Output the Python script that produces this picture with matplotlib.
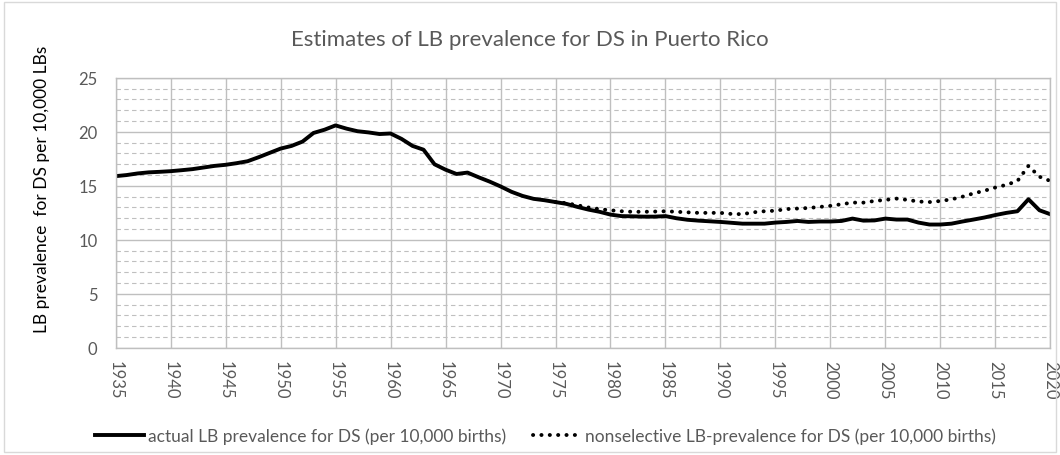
import numpy as np
import matplotlib.pyplot as plt
from matplotlib.patches import Rectangle

plt.rcParams['font.family'] = ['Lato', 'DejaVu Sans']

# Data
years = list(range(1935, 2021))
actual = [15.9, 16.0, 16.15, 16.25, 16.3, 16.36, 16.45, 16.55, 16.7, 16.85,
          16.95, 17.1, 17.28, 17.65, 18.05, 18.45, 18.7, 19.1, 19.9, 20.2,
          20.6, 20.3, 20.06, 19.95, 19.8, 19.85, 19.35, 18.7, 18.35, 17.0,
          16.5, 16.1, 16.23, 15.8, 15.4, 14.95, 14.45, 14.07, 13.8, 13.67,
          13.5, 13.33, 13.05, 12.8, 12.6, 12.34, 12.2, 12.18, 12.15, 12.15,
          12.2, 12.0, 11.86, 11.78, 11.72, 11.66, 11.58, 11.5, 11.5, 11.5,
          11.6, 11.66, 11.75, 11.66, 11.7, 11.7, 11.75, 11.97, 11.78, 11.8,
          11.97, 11.88, 11.88, 11.6, 11.42, 11.42, 11.5, 11.7, 11.88, 12.07,
          12.3, 12.5, 12.65, 13.76, 12.74, 12.37]

ns_years = list(range(1975, 2021))
nonselective = [13.5, 13.4, 13.2, 13.0, 12.85, 12.74, 12.65, 12.6, 12.6, 12.62,
                12.65, 12.6, 12.55, 12.5, 12.5, 12.5, 12.4, 12.38, 12.55, 12.65,
                12.7, 12.85, 12.9, 12.95, 13.05, 13.15, 13.3, 13.45, 13.45, 13.6,
                13.7, 13.82, 13.7, 13.55, 13.5, 13.6, 13.75, 14.0, 14.3, 14.55,
                14.85, 15.1, 15.45, 16.85, 15.85, 15.45]

gray = "#595959"
grid = "#BFBFBF"

fig = plt.figure(figsize=(10.6, 4.56), dpi=100)
ax = fig.add_axes([0.109, 0.235, 0.882, 0.592])

ax.plot(years, actual, color="black", linewidth=2.8, solid_joinstyle="round",
        label="actual LB prevalence for DS (per 10,000 births)")
ax.plot(ns_years, nonselective, color="black", linewidth=2.8,
        linestyle=(0, (0.05, 2.1)), dash_capstyle="round",
        label="nonselective LB-prevalence for DS (per 10,000 births)")

ax.set_xlim(1935, 2020)
ax.set_ylim(0, 25)
ax.set_xticks(range(1935, 2021, 5))
ax.set_yticks(range(0, 26, 5))
ax.set_yticks(range(0, 26), minor=True)
ax.set_xticklabels([str(y) for y in range(1935, 2021, 5)], rotation=-90, fontsize=12)

ax.grid(axis="y", which="minor", color=grid, linestyle=(0, (4, 3)), linewidth=0.8)
ax.grid(axis="y", which="major", color=grid, linestyle="-", linewidth=1.0)
ax.grid(axis="x", which="major", color=grid, linestyle="-", linewidth=1.0)
ax.set_axisbelow(True)

ax.tick_params(axis="both", which="both", length=0, colors=gray)
ax.tick_params(axis="y", pad=13, labelsize=12)
ax.tick_params(axis="x", pad=9)
for s in ax.spines.values():
    s.set_color(grid)
    s.set_linewidth(1.0)

ax.set_ylabel("LB prevalence  for DS per 10,000 LBs", fontsize=12.5, color="black")
ax.yaxis.set_label_coords(-0.07, 0.59)
fig.text(0.5, 0.912, "Estimates of LB prevalence for DS in Puerto Rico",
         ha="center", va="center", fontsize=16, color=gray)

fig.legend(loc="center", bbox_to_anchor=(0.515, 0.043), ncol=2, frameon=False,
           fontsize=12.5, labelcolor=gray, handlelength=2.8, columnspacing=1.6,
           handletextpad=0.2)

fig.patches.append(Rectangle((0.004, 0.006), 0.992, 0.988, transform=fig.transFigure,
                             fill=False, edgecolor="#D9D9D9", linewidth=1.0))

fig.savefig("out.png", dpi=100)
